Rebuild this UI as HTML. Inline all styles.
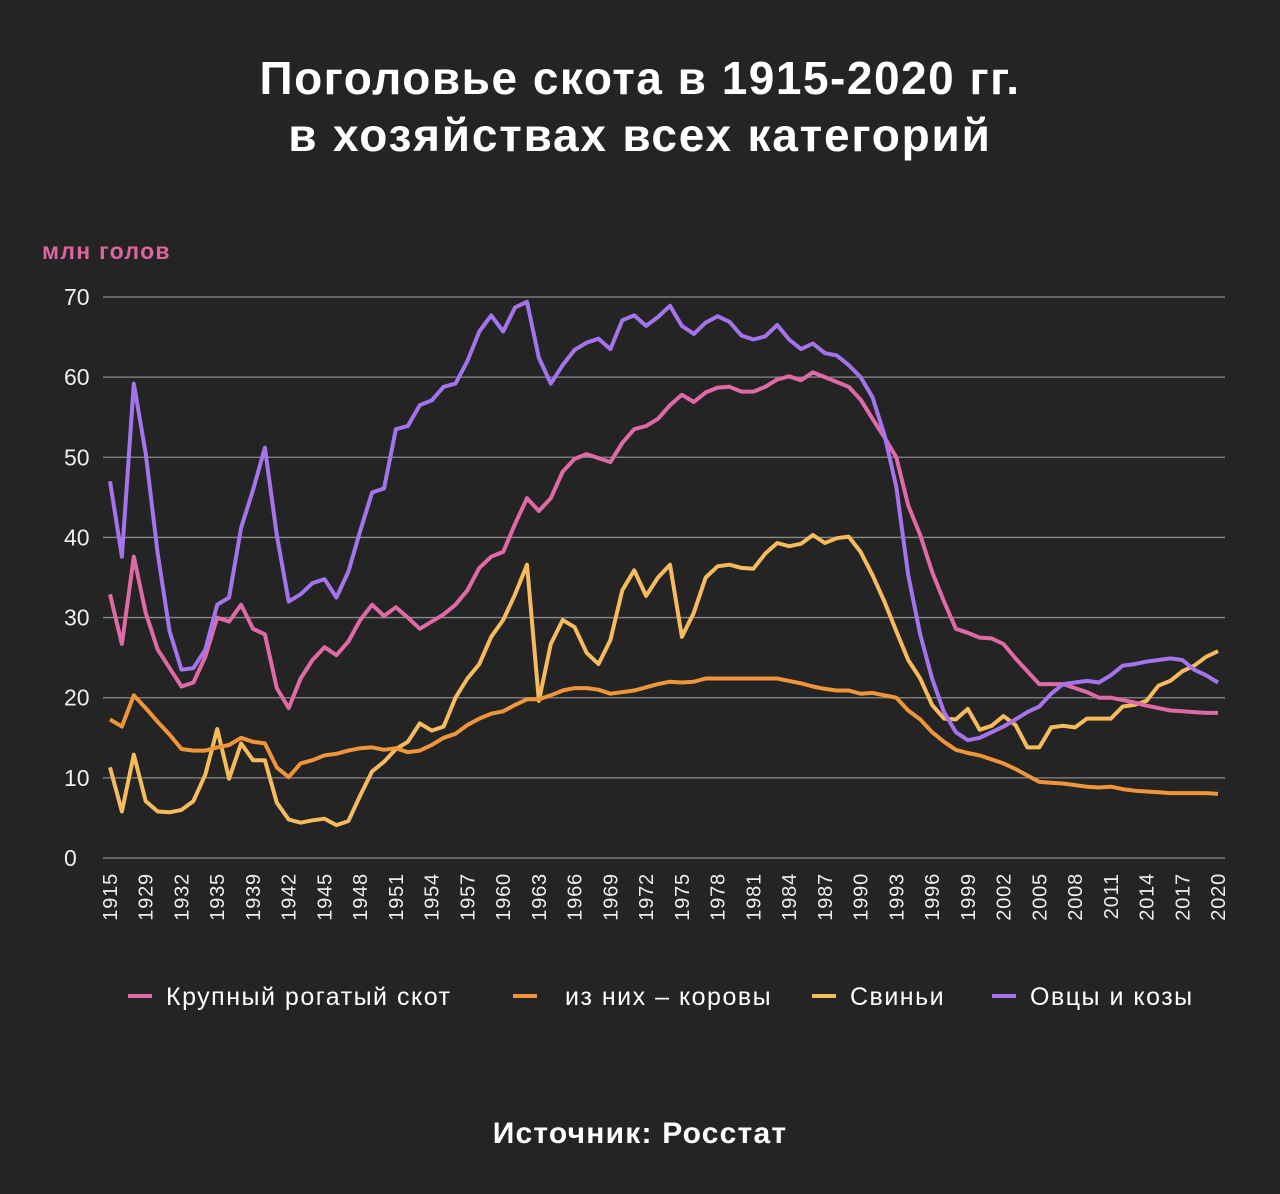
<!DOCTYPE html>
<html><head><meta charset="utf-8"><style>
body{margin:0;background:#242424;}
svg{display:block;font-family:"Liberation Sans",sans-serif;}
</style></head><body>
<svg id="chart" width="1280" height="1194" viewBox="0 0 1280 1194">
<rect width="1280" height="1194" fill="#242424"/>
<text x="640" y="94" fill="#fff" font-size="46" font-weight="bold" letter-spacing="1.5" text-anchor="middle">Поголовье скота в 1915-2020 гг.</text>
<text x="640" y="151" fill="#fff" font-size="46" font-weight="bold" letter-spacing="1.8" text-anchor="middle">в хозяйствах всех категорий</text>
<text x="42" y="259" fill="#e0649f" font-size="23" font-weight="bold" letter-spacing="1.3">млн голов</text>
<g id="grid"></g><g id="xlabels"></g><g id="series"></g>
<g font-size="25" fill="#fff" letter-spacing="1.5">
<line x1="128" y1="996" x2="152" y2="996" stroke="#e06aa6" stroke-width="4"/>
<text x="166" y="1005">Крупный рогатый скот</text>
<line x1="513" y1="996" x2="537" y2="996" stroke="#f0963a" stroke-width="4"/>
<text x="565" y="1005">из них – коровы</text>
<line x1="812" y1="996" x2="836" y2="996" stroke="#f5bb5d" stroke-width="4"/>
<text x="850" y="1005">Свиньи</text>
<line x1="992" y1="996" x2="1016" y2="996" stroke="#a574ec" stroke-width="4"/>
<text x="1030" y="1005">Овцы и козы</text>
</g>
<text x="640" y="1143" fill="#fff" font-size="30" font-weight="bold" letter-spacing="1.2" text-anchor="middle">Источник: Росстат</text>
</svg>
<script>
const years=[1915,1916,1928,1929,1930,1931,1932,1933,1934,1935,1937,1938];
for(let y=1939;y<=2020;y++)years.push(y);
const yTicks=[0,10,20,30,40,50,60,70];
const cattle=[32.9,26.7,37.6,30.6,26,23.7,21.4,21.9,25.1,30,29.5,31.6,28.6,27.9,21.2,18.7,22.4,24.7,26.3,25.3,27,29.7,31.6,30.2,31.3,30,28.6,29.5,30.4,31.6,33.4,36.2,37.6,38.2,41.7,44.9,43.3,44.9,48.2,49.8,50.4,49.9,49.4,51.8,53.5,53.9,54.8,56.5,57.8,56.9,58.1,58.7,58.8,58.2,58.2,58.8,59.7,60.1,59.6,60.6,60,59.4,58.8,57.2,54.8,52.5,50,44,40.3,35.7,32,28.6,28.1,27.5,27.4,26.7,24.9,23.3,21.7,21.7,21.7,21.2,20.7,20,20,19.7,19.4,19,18.7,18.4,18.3,18.2,18.1,18.1];
const cows=[17.3,16.4,20.3,18.7,17,15.4,13.6,13.4,13.4,13.8,14.1,15,14.5,14.3,11.3,10.1,11.8,12.2,12.8,13,13.4,13.7,13.8,13.5,13.7,13.2,13.4,14.1,15,15.5,16.6,17.4,18,18.3,19.1,19.8,19.8,20.3,20.9,21.2,21.2,21,20.5,20.7,20.9,21.3,21.7,22,21.9,22,22.4,22.4,22.4,22.4,22.4,22.4,22.4,22.1,21.8,21.4,21.1,20.9,20.9,20.5,20.6,20.3,20,18.4,17.3,15.7,14.5,13.5,13.1,12.8,12.3,11.8,11.1,10.3,9.5,9.4,9.3,9.1,8.9,8.8,8.9,8.6,8.4,8.3,8.2,8.1,8.1,8.1,8.1,8.0];
const pigs=[11.3,5.8,12.9,7.1,5.8,5.7,6,7.1,10.4,16.1,9.9,14.3,12.2,12.2,6.9,4.8,4.4,4.7,4.9,4.1,4.6,7.8,10.8,12,13.6,14.5,16.8,15.9,16.4,20,22.4,24.2,27.6,29.7,32.9,36.6,19.6,26.7,29.7,28.8,25.6,24.2,27.2,33.4,35.9,32.7,35,36.6,27.6,30.6,35,36.4,36.6,36.2,36.1,38,39.3,38.9,39.2,40.3,39.3,39.9,40.1,38.2,35.3,32,28.3,24.7,22.4,19.1,17.4,17.3,18.6,16,16.5,17.7,16.6,13.8,13.8,16.3,16.5,16.3,17.4,17.4,17.4,18.9,19.1,19.6,21.5,22.1,23.3,24,25.1,25.8];
const sheep=[47,37.6,59.2,50.5,38,28.3,23.5,23.7,26,31.6,32.5,41.2,45.9,51.2,40.3,32,32.9,34.3,34.8,32.5,35.7,40.8,45.6,46.1,53.5,53.9,56.5,57.1,58.8,59.2,62,65.7,67.7,65.7,68.7,69.4,62.4,59.2,61.5,63.4,64.3,64.8,63.5,67.1,67.7,66.4,67.5,68.9,66.4,65.4,66.8,67.6,66.9,65.2,64.7,65.1,66.5,64.7,63.5,64.2,63,62.7,61.5,60,57.5,52.8,46.3,35.3,27.9,22.4,18.2,15.7,14.7,15,15.7,16.4,17.3,18.2,18.9,20.5,21.7,21.9,22.1,21.9,22.8,24,24.2,24.5,24.7,24.9,24.7,23.5,22.8,21.9];

const NS='http://www.w3.org/2000/svg';
const X0=110,X1=1218,Y0=858,Y70=297;
function xs(i){return X0+(X1-X0)*i/(years.length-1);}
function ys(v){return Y0-(Y0-Y70)*v/70;}
function mk(tag,attrs,parent){const e=document.createElementNS(NS,tag);for(const k in attrs)e.setAttribute(k,attrs[k]);parent.appendChild(e);return e;}
const grid=document.getElementById('grid');
yTicks.forEach(t=>{
  const l=mk('line',{x1:103,x2:1225,y1:ys(t),y2:ys(t),stroke:'#8a8a8a','stroke-width':1.3},grid);
  
  
  const tx=mk('text',{x:64,y:ys(t)+8,fill:'#eee','font-size':23},grid);
  tx.textContent=t;
  
  
});
const xl=document.getElementById('xlabels');
years.forEach((y,i)=>{
  if(i%3!==0)return;
  const x=xs(i)+7;
  const t=mk('text',{x:x,y:873,fill:'#eee','font-size':20,'letter-spacing':0.8,'text-anchor':'end',transform:`rotate(-90 ${x} 873)`},xl);
  t.textContent=y;
  
  
});
const sg=document.getElementById('series');
[[pigs,'#f5bb5d','series-pigs'],[cows,'#f0963a','series-cows'],[cattle,'#e06aa6','series-cattle'],[sheep,'#a574ec','series-sheep']].forEach(([d,c,n])=>{
  const p=mk('polyline',{points:d.map((v,i)=>xs(i).toFixed(1)+','+ys(v).toFixed(1)).join(' '),fill:'none',stroke:c,'stroke-width':4,'stroke-linejoin':'round'},sg);
  
  
});
</script>
</body></html>
